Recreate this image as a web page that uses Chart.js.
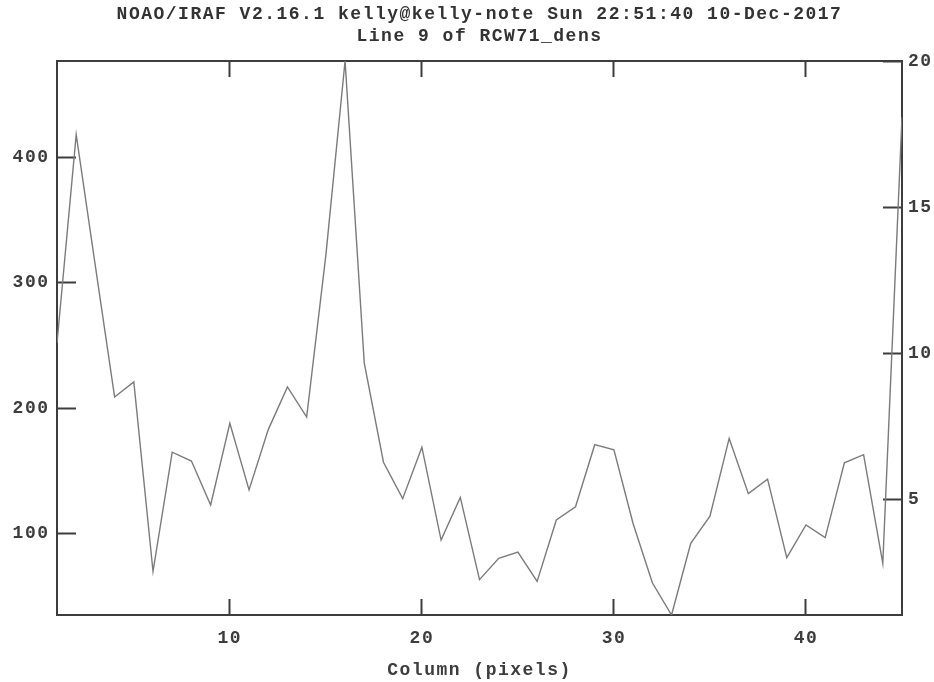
<!DOCTYPE html>
<html>
<head>
<meta charset="utf-8">
<title>Line 9 of RCW71_dens</title>
<script src="https://cdn.jsdelivr.net/npm/chart.js"></script>
<style>
html,body{margin:0;padding:0;background:#fff}
#wrap{width:934px;height:682px}
</style>
</head>
<body>
<div id="wrap"><canvas id="plot" width="934" height="682"></canvas></div>
<script>
// implot line profile, column vs. density
const columns = [1,2,3,4,5,6,7,8,9,10,11,12,13,14,15,16,17,18,19,20,21,22,23,
  24,25,26,27,28,29,30,31,32,33,34,35,36,37,38,39,40,41,42,43,44,45];
const dens = [252,418,313,209,221,70,165,158,123,188,135,183,217,193,322,476.7,
  236,157,128,169,95,129,63.5,80.5,85.5,62,111,121.5,171,167,108,61,35.3,92.4,
  114,176,132,143.5,81,107,97,156.5,163,76.5,432];

const xTicks = [10,20,30,40];
const leftTicks = [100,200,300,400];
const rightTicks = [5,10,15,20];
const rightRange = [1.04, 20];

const titleLines = ['NOAO/IRAF V2.16.1 kelly@kelly-note Sun 22:51:40 10-Dec-2017', 'Line 9 of RCW71_dens'];
const xLabel = 'Column (pixels)';

const INK = '#3d3d3d';
const FONT = "'Liberation Mono', 'DejaVu Sans Mono', monospace";

// iraf text is wide-set, fake it with canvas letter spacing
const spacing = {
  id: 'spacing',
  beforeLayout(chart){ chart.ctx.letterSpacing = '1.5px'; },
  beforeDraw(chart){ chart.ctx.letterSpacing = '1.5px'; }
};

function keep(list){
  return scale => { scale.ticks = scale.ticks.filter(t => list.includes(t.value)); };
}

function inward(len){
  return {drawOnChartArea:false, drawTicks:true, tickLength:-len, tickWidth:2, tickColor:INK};
}

const border = {display:true, color:INK, width:2};
const tickFont = {family:FONT, size:18, weight:'bold'};

new Chart(document.getElementById('plot'), {
  type: 'line',
  data: {
    datasets: [{
      data: columns.map((c, i) => ({x: c, y: dens[i]})),
      borderColor: '#7b7b7b',
      borderWidth: 1.4,
      pointRadius: 0,
      tension: 0,
      xAxisID: 'x',
      yAxisID: 'y'
    }]
  },
  options: {
    responsive: false,
    animation: false,
    devicePixelRatio: 1,
    layout: {padding: 0},
    plugins: {
      legend: {display: false},
      tooltip: {enabled: false},
      title: {
        display: true,
        fullSize: false,
        text: titleLines,
        color: '#333',
        font: {family: FONT, size: 18, weight: 'bold', lineHeight: 22/18},
        padding: {top: 3, bottom: 14}
      }
    },
    scales: {
      x: {
        type: 'linear', position: 'bottom',
        min: columns[0], max: columns[columns.length - 1],
        border: border,
        grid: inward(16),
        ticks: {stepSize: 10, padding: 29, color: INK, font: tickFont, maxRotation: 0},
        afterBuildTicks: keep(xTicks),
        afterFit: s => { s.height = 67; },
        title: {display: true, text: xLabel, color: INK, font: tickFont, padding: {top: 0, bottom: 1}}
      },
      xTop: {
        type: 'linear', position: 'top',
        min: columns[0], max: columns[columns.length - 1],
        border: border,
        grid: inward(16),
        ticks: {display: false, stepSize: 10},
        afterBuildTicks: keep(xTicks),
        afterFit: s => { s.height = 0; }
      },
      y: {
        type: 'linear', position: 'left',
        min: Math.min(...dens), max: Math.max(...dens),
        border: border,
        grid: inward(19),
        ticks: {stepSize: 100, padding: 26.5, color: INK, font: tickFont},
        afterBuildTicks: keep(leftTicks),
        afterFit: s => { s.width = 57; }
      },
      y2: {
        type: 'linear', position: 'right',
        min: rightRange[0], max: rightRange[1],
        border: border,
        grid: inward(19),
        ticks: {stepSize: 5, padding: 25, color: INK, font: tickFont},
        afterBuildTicks: keep(rightTicks),
        afterFit: s => { s.width = 32; }
      }
    }
  },
  plugins: [spacing]
});
</script>
</body>
</html>
